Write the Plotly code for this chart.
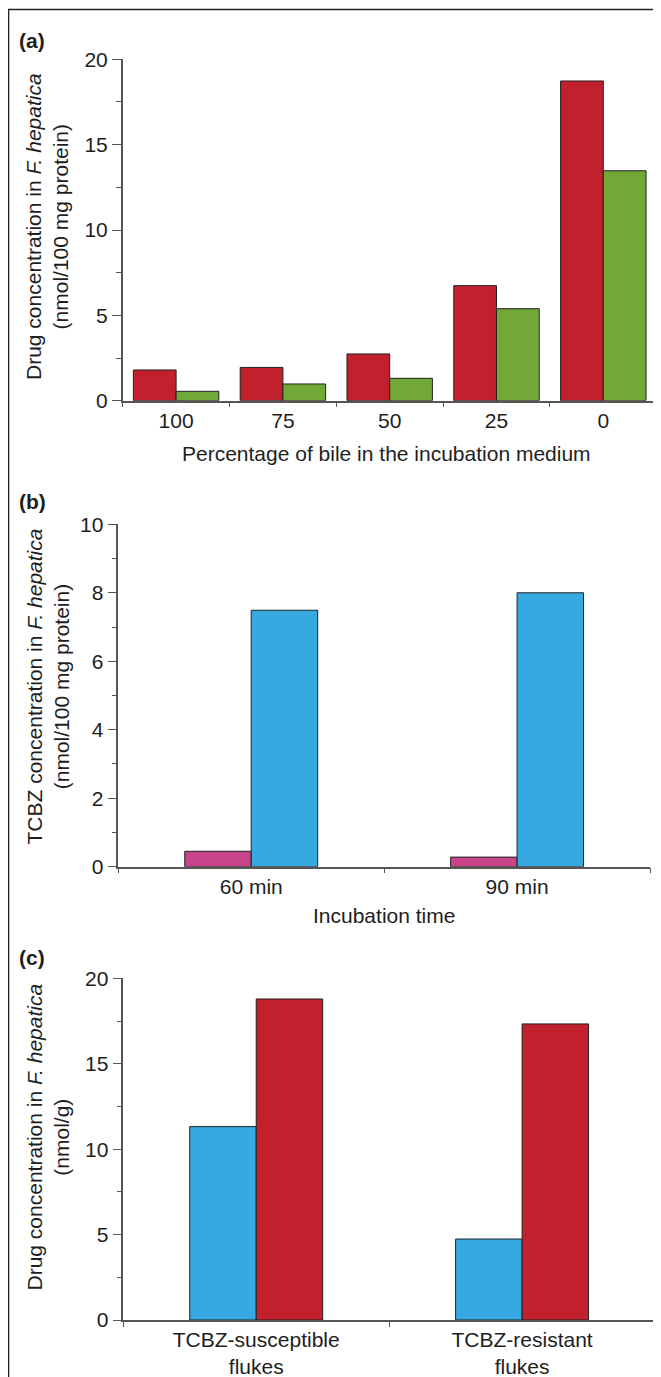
import plotly.graph_objects as go

W, H = 661, 1377
OFF = 8  # page body margin in the browser

# ---------------- data ----------------
bile_pct = ["100", "75", "50", "25", "0"]
a_red = [1.8, 1.95, 2.74, 6.74, 18.73]
a_green = [0.55, 0.98, 1.31, 5.39, 13.47]

inc_time = ["60 min", "90 min"]
b_magenta = [0.45, 0.28]
b_blue = [7.49, 8.0]

fluke_type = ["TCBZ-susceptible<br>flukes", "TCBZ-resistant<br>flukes"]
c_blue = [11.32, 4.74]
c_red = [18.79, 17.33]

RED = "#C1212C"
GREEN = "#72A837"
MAGENTA = "#C8458B"
BLUE = "#36A9E0"
FONT = "Liberation Sans, Arial, Helvetica, sans-serif"
TXT = "#1e1e1e"
AX = "#555555"


def px(x):
    return (x - OFF) / W


def py(y):
    return 1 - (y - OFF) / H


fig = go.Figure()
mk = lambda c: dict(color=c, line=dict(color="#222222", width=1))

fig.add_trace(go.Bar(x=bile_pct, y=a_red, marker=mk(RED), xaxis="x", yaxis="y"))
fig.add_trace(go.Bar(x=bile_pct, y=a_green, marker=mk(GREEN), xaxis="x", yaxis="y"))
fig.add_trace(go.Bar(x=inc_time, y=b_magenta, marker=mk(MAGENTA), xaxis="x2", yaxis="y2",
                     width=0.25, offset=-0.25))
fig.add_trace(go.Bar(x=inc_time, y=b_blue, marker=mk(BLUE), xaxis="x2", yaxis="y2",
                     width=0.25, offset=0.0))
fig.add_trace(go.Bar(x=fluke_type, y=c_blue, marker=mk(BLUE), xaxis="x3", yaxis="y3",
                     width=0.25, offset=-0.25))
fig.add_trace(go.Bar(x=fluke_type, y=c_red, marker=mk(RED), xaxis="x3", yaxis="y3",
                     width=0.25, offset=0.0))

tickfont = dict(family=FONT, size=21, color=TXT)


def xax(x0, x1, anchor):
    return dict(domain=[px(x0), px(x1)], anchor=anchor, type="category",
                showline=True, linecolor=AX, linewidth=1.5, showgrid=False,
                ticks="outside", tickson="boundaries", ticklen=5, tickcolor=AX,
                tickwidth=1.2, tickfont=tickfont, zeroline=False, fixedrange=True,
                automargin=False)


def yax(y_top, y_bot, anchor, rng, dtick, minor):
    return dict(domain=[py(y_bot), py(y_top)], anchor=anchor, range=rng,
                showline=True, linecolor=AX, linewidth=1.5, showgrid=False,
                ticks="outside", ticklen=9, tickcolor=AX, tickwidth=1.2,
                dtick=dtick, tick0=0, tickfont=tickfont, zeroline=False,
                minor=dict(ticks="outside", dtick=minor, ticklen=5, tickcolor=AX, tickwidth=1.2),
                fixedrange=True, automargin=False)


fig.update_layout(
    width=W, height=H,
    margin=dict(l=0, r=0, t=0, b=0, autoexpand=False),
    paper_bgcolor="white", plot_bgcolor="white",
    showlegend=False, barmode="group", bargap=0.2,
    font=dict(family=FONT, color=TXT),
    xaxis=xax(122.7, 656.7, "y"),
    yaxis=yax(59.3, 400.7, "x", [0, 20], 5, 2.5),
    xaxis2=xax(118.3, 650, "y2"),
    yaxis2=yax(524.3, 866.7, "x2", [0, 10], 2, 1),
    xaxis3=xax(123.3, 655, "y3"),
    yaxis3=yax(978.3, 1320, "x3", [0, 20], 5, 2.5),
)

ann = []


def label(text, x, y, bold=False, angle=0, xanchor="center"):
    t = f"<b>{text}</b>" if bold else text
    ann.append(dict(text=t, x=px(x), y=py(y), xref="paper", yref="paper",
                    showarrow=False, textangle=angle, xanchor=xanchor, yanchor="middle",
                    font=dict(family=FONT, size=21, color=TXT)))


label("(a)", 17, 41, bold=True, xanchor="left")
label("(b)", 17, 501, bold=True, xanchor="left")
label("(c)", 17, 957, bold=True, xanchor="left")

label("Drug concentration in <i>F. hepatica</i><br>(nmol/100 mg protein)", 47.5, 226.5, angle=-90)
label("TCBZ concentration in <i>F. hepatica</i><br>(nmol/100 mg protein)", 47.5, 687, angle=-90)
label("Drug concentration in <i>F. hepatica</i><br>(nmol/g)", 47.5, 1137, angle=-90)

label("Percentage of bile in the incubation medium", 386.5, 453)
label("Incubation time", 384, 915)

fig.update_layout(annotations=ann)

fig.update_layout(shapes=[
    dict(type="line", xref="paper", yref="paper", x0=px(8), x1=px(700), y0=py(9.5), y1=py(9.5),
         line=dict(color="#222222", width=1.6)),
    dict(type="line", xref="paper", yref="paper", x0=px(8.5), x1=px(8.5), y0=py(9.5), y1=py(1400),
         line=dict(color="#222222", width=1.6)),
])

fig.write_html("out.html")
